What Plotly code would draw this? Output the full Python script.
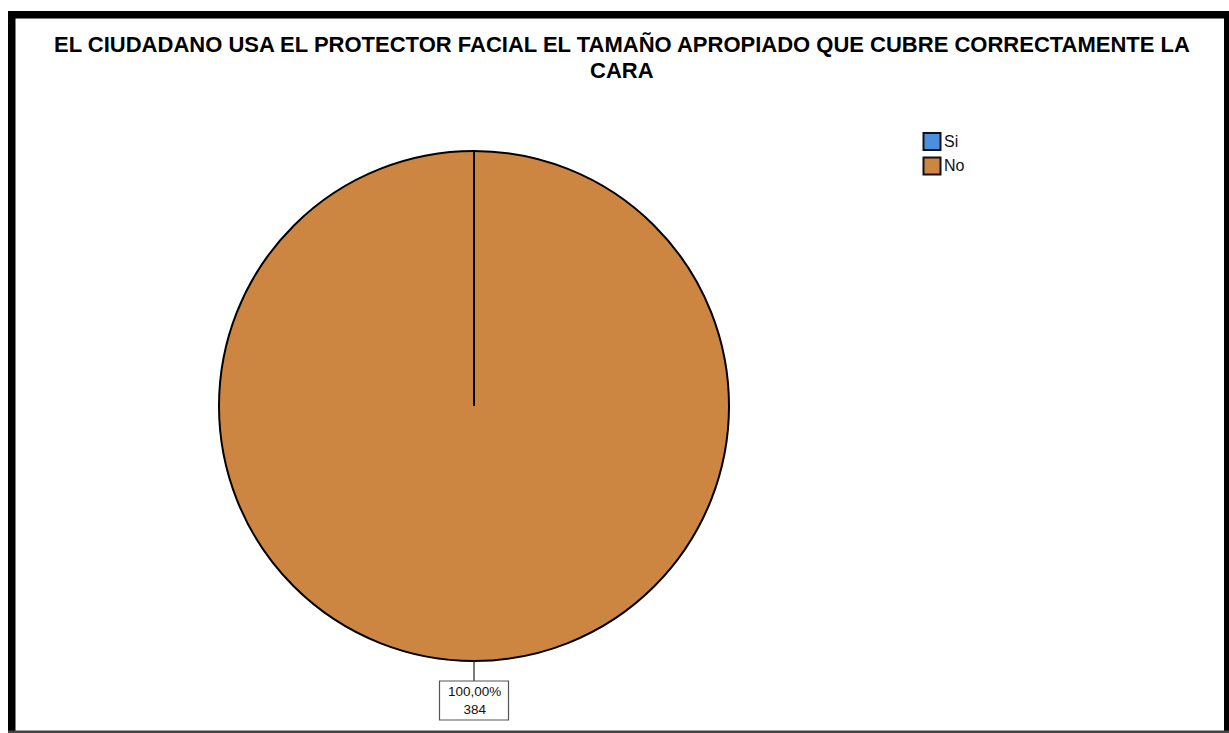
import plotly.graph_objects as go

# ---- data -------------------------------------------------------------
CATEGORIES = ["Si", "No"]
COUNTS = [0, 384]
COLORS = ["#4A8FE0", "#CC8641"]
TITLE_LINES = [
    "EL CIUDADANO USA EL PROTECTOR FACIAL EL TAMAÑO APROPIADO QUE CUBRE CORRECTAMENTE LA",
    "CARA",
]

# ---- layout geometry (pixels) -----------------------------------------
W, H = 1229, 733
CX, CY, R = 474, 406, 255          # pie centre and radius
FONT = "Liberation Sans, Arial, sans-serif"


def px(x):
    return x / W


def py(y):
    return 1 - y / H


total = sum(COUNTS)

fig = go.Figure(
    go.Pie(
        labels=CATEGORIES,
        values=COUNTS,
        sort=False,
        direction="clockwise",
        rotation=0,
        textinfo="none",
        showlegend=False,
        marker=dict(colors=COLORS, line=dict(color="black", width=2)),
        domain=dict(x=[px(CX - R), px(CX + R)], y=[py(CY + R), py(CY - R)]),
        hovertemplate="%{label}: %{value} (%{percent})<extra></extra>",
    )
)

shapes = []
annotations = []

# slice boundary of the full "No" slice (starts at 12 o'clock)
shapes.append(dict(type="line", xref="paper", yref="paper",
                   x0=px(CX), y0=py(CY), x1=px(CX), y1=py(CY - R),
                   line=dict(color="black", width=2)))

# data label box under the pie
BOX_W, BOX_H, GAP = 69, 39, 20
for lab, val in zip(CATEGORIES, COUNTS):
    if val <= 0:
        continue
    pct = val / total * 100
    text = f"{pct:.2f}".replace(".", ",") + "%<br>" + f"{val}"
    top = CY + R + GAP
    shapes.append(dict(type="line", xref="paper", yref="paper",
                       x0=px(CX), y0=py(CY + R), x1=px(CX), y1=py(top),
                       line=dict(color="#222222", width=1.2)))
    shapes.append(dict(type="rect", xref="paper", yref="paper",
                       x0=px(CX - BOX_W / 2), x1=px(CX + BOX_W / 2),
                       y0=py(top), y1=py(top + BOX_H),
                       line=dict(color="#555555", width=1.2),
                       fillcolor="white"))
    annotations.append(dict(xref="paper", yref="paper", x=px(CX),
                            y=py(top + BOX_H / 2), text=text, showarrow=False,
                            xanchor="center", yanchor="middle",
                            font=dict(family=FONT, size=13.5, color="#111111")))

# legend
LEG_X, LEG_Y, SQ, PITCH = 923.5, 133, 17, 24.5
for i, (lab, col) in enumerate(zip(CATEGORIES, COLORS)):
    y0 = LEG_Y + i * PITCH
    shapes.append(dict(type="rect", xref="paper", yref="paper",
                       x0=px(LEG_X), x1=px(LEG_X + SQ),
                       y0=py(y0), y1=py(y0 + SQ),
                       line=dict(color="#111111", width=2), fillcolor=col))
    annotations.append(dict(xref="paper", yref="paper", x=px(LEG_X + SQ + 2),
                            y=py(y0 + SQ / 2), text=lab, showarrow=False,
                            xanchor="left", yanchor="middle",
                            font=dict(family=FONT, size=16, color="#111111")))

# title: two closely stacked lines
LINE_STEP = 25.5
for i, line in enumerate(TITLE_LINES):
    annotations.append(dict(xref="paper", yref="paper", x=px(622),
                            y=py(45 + i * LINE_STEP), text=f"<b>{line}</b>",
                            showarrow=False, xanchor="center", yanchor="middle",
                            font=dict(family=FONT, size=22, color="black")))

# outer frame
shapes += [
    dict(type="rect", xref="paper", yref="paper", x0=px(8), x1=px(15.5),
         y0=py(11), y1=py(733), line=dict(width=0), fillcolor="black"),
    dict(type="rect", xref="paper", yref="paper", x0=px(8), x1=px(1229),
         y0=py(11), y1=py(18.5), line=dict(width=0), fillcolor="black"),
    dict(type="rect", xref="paper", yref="paper", x0=px(1224), x1=px(1229),
         y0=py(11), y1=py(733), line=dict(width=0), fillcolor="black"),
    dict(type="rect", xref="paper", yref="paper", x0=px(8), x1=px(1229),
         y0=py(730.5), y1=py(733), line=dict(width=0), fillcolor="#444444"),
]

fig.update_layout(
    width=W, height=H,
    margin=dict(l=0, r=0, t=0, b=0),
    paper_bgcolor="white", plot_bgcolor="white",
    shapes=shapes, annotations=annotations,
    font=dict(family=FONT),
)

fig.write_html("out.html", config={"displayModeBar": False})
